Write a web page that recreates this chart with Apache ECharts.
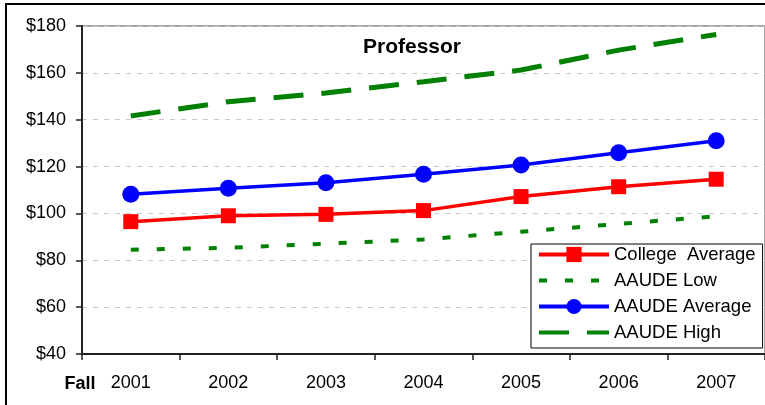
<!DOCTYPE html>
<html>
<head>
<meta charset="utf-8">
<script src="https://cdn.jsdelivr.net/npm/echarts@6/dist/echarts.min.js"></script>
<style>
  html, body { margin: 0; padding: 0; background: #fff; }
  #chart { width: 765px; height: 405px; }
</style>
</head>
<body>
<div id="chart"></div>
<script>
// values
const years = ['2001', '2002', '2003', '2004', '2005', '2006', '2007']
const collegeAverage = [96.5, 99, 99.6, 101.2, 107.2, 111.4, 114.6]
const aaudeLow = [84.5, 85.3, 87.1, 88.9, 92.2, 95.5, 98.8]
const aaudeAverage = [108.2, 110.7, 113.1, 116.7, 120.7, 125.9, 131]
const aaudeHigh = [141.6, 147.7, 151.4, 156.2, 161.2, 169.7, 176.4]

const FONT = '"Liberation Sans", Arial, sans-serif'
const noMarker = {color: 'rgba(0,0,0,0)', borderWidth: 0}

let myChart = echarts.init(document.getElementById('chart'), null, {renderer: 'canvas'})

let option = {
  backgroundColor: '#fff',
  animation: false,
  textStyle: {fontFamily: FONT},
  graphic: [
    {
      type: 'rect',
      shape: {x: 6, y: 4, width: 900, height: 600},
      style: {fill: 'none', stroke: '#000', lineWidth: 2},
      silent: true
    },
    {
      type: 'text',
      x: 412,
      y: 47,
      style: {
        text: 'Professor',
        font: 'bold 21px ' + FONT,
        fill: '#000',
        textAlign: 'center',
        textVerticalAlign: 'middle'
      }
    },
    {
      type: 'text',
      x: 80,
      y: 384,
      style: {
        text: 'Fall',
        font: 'bold 18px ' + FONT,
        fill: '#000',
        textAlign: 'center',
        textVerticalAlign: 'middle'
      }
    }
  ],
  grid: {
    left: 82,
    top: 26,
    right: -4,
    bottom: 51,
    show: true,
    borderColor: '#8c8c8c',
    borderWidth: 1.5,
    containLabel: false
  },
  legend: {
    orient: 'vertical',
    left: 531,
    top: 244,
    padding: [1, 7, 6, 6],
    itemWidth: 70,
    itemHeight: 19,
    itemGap: 7,
    backgroundColor: '#fff',
    borderColor: '#000',
    borderWidth: 1,
    textStyle: {fontSize: 18.5, color: '#000', fontFamily: FONT},
    data: [
      {name: 'College  Average', lineStyle: {width: 4}},
      {name: 'AAUDE Low', lineStyle: {width: 4}, itemStyle: noMarker},
      {name: 'AAUDE Average', lineStyle: {width: 4}},
      {name: 'AAUDE High', lineStyle: {width: 4}, itemStyle: noMarker}
    ]
  },
  xAxis: {
    type: 'category',
    data: years,
    boundaryGap: true,
    axisLine: {lineStyle: {color: '#222', width: 2}},
    axisTick: {show: true, length: 6, lineStyle: {color: '#222', width: 1.5}},
    axisLabel: {fontSize: 18, color: '#000', margin: 20, fontFamily: FONT},
    splitLine: {show: false}
  },
  yAxis: {
    type: 'value',
    min: 40,
    max: 180,
    interval: 20,
    axisLine: {show: true, lineStyle: {color: '#222', width: 2}},
    axisTick: {show: true, length: 6, lineStyle: {color: '#222', width: 1.5}},
    axisLabel: {
      fontSize: 18,
      color: '#000',
      margin: 16,
      fontFamily: FONT,
      formatter: function(v) {
        return '$' + v
      }
    },
    splitLine: {show: true, lineStyle: {color: '#c8c8c8', width: 1, type: [5, 6]}}
  },
  series: [
    {
      name: 'College  Average',
      type: 'line',
      data: collegeAverage,
      symbol: 'rect',
      symbolSize: 15,
      color: '#ff0000',
      lineStyle: {color: '#ff0000', width: 3.5},
      itemStyle: {color: '#ff0000'},
      z: 4
    },
    {
      name: 'AAUDE Low',
      type: 'line',
      data: aaudeLow,
      symbol: 'none',
      color: '#008000',
      lineStyle: {color: '#008000', width: 4, type: [8, 18]},
      z: 2
    },
    {
      name: 'AAUDE Average',
      type: 'line',
      data: aaudeAverage,
      symbol: 'circle',
      symbolSize: 17,
      color: '#0000ff',
      lineStyle: {color: '#0000ff', width: 3.5},
      itemStyle: {color: '#0000ff'},
      z: 4
    },
    {
      name: 'AAUDE High',
      type: 'line',
      data: aaudeHigh,
      symbol: 'none',
      color: '#008000',
      lineStyle: {color: '#008000', width: 5, type: [30, 18]},
      z: 2
    }
  ]
}

myChart.setOption(option)
</script>
</body>
</html>
